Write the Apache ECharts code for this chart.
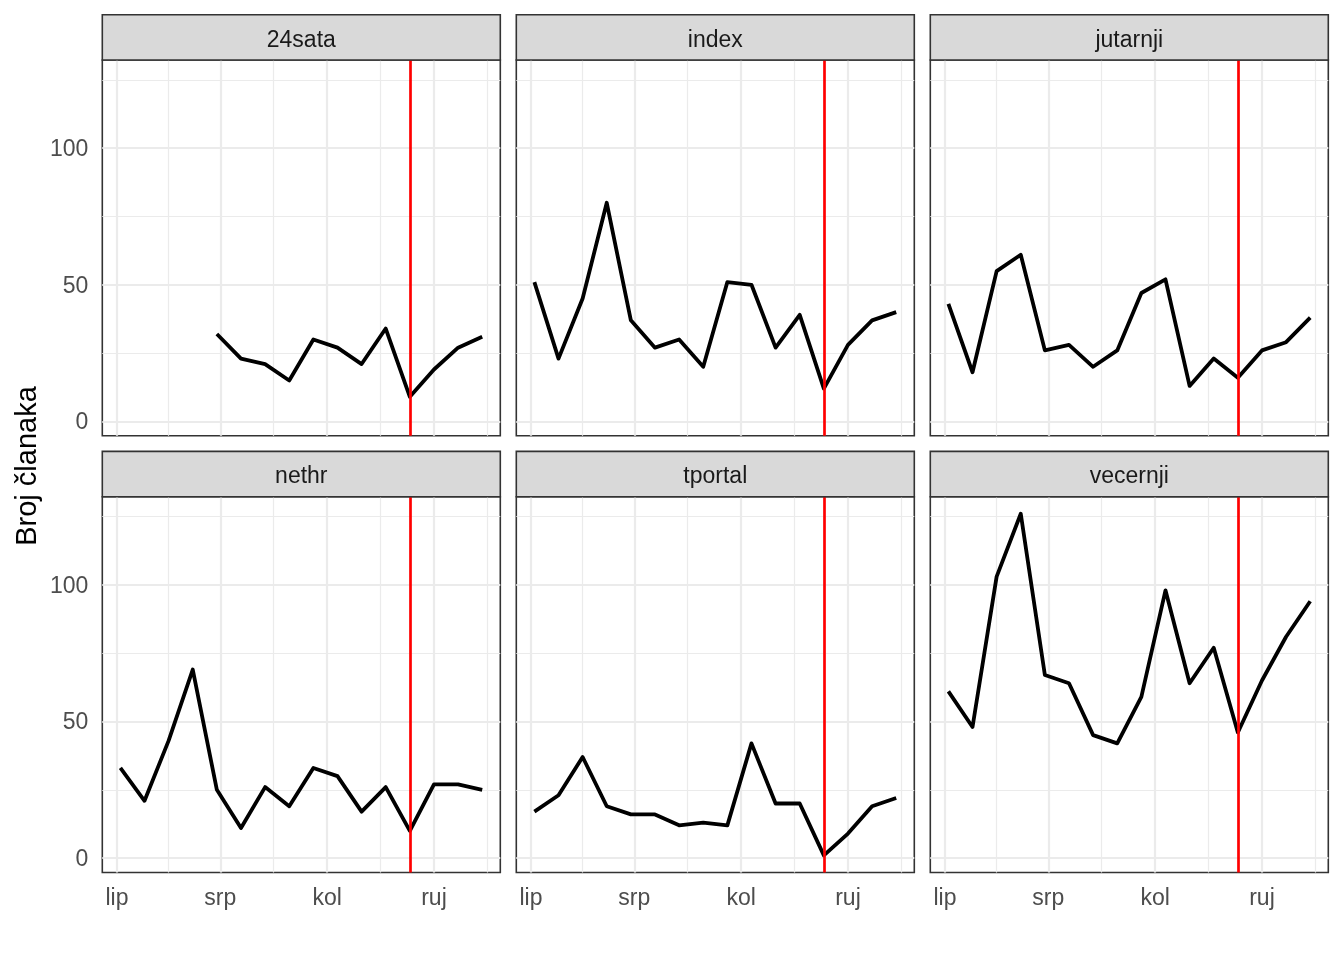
<!DOCTYPE html>
<html>
<head>
<meta charset="utf-8">
<script src="https://cdn.jsdelivr.net/npm/echarts@6/dist/echarts.min.js"></script>
<style>
html, body { margin: 0; padding: 0; background: #ffffff; }
#chart { width: 1344px; height: 960px; }
</style>
</head>
<body>
<div id="chart"></div>
<script>
// ---------- data ----------
const weeks = ['2019-06-02','2019-06-09','2019-06-16','2019-06-23','2019-06-30','2019-07-07','2019-07-14','2019-07-21',
               '2019-07-28','2019-08-04','2019-08-11','2019-08-18','2019-08-25','2019-09-01','2019-09-08','2019-09-15'];
const portals = ['24sata', 'index', 'jutarnji', 'nethr', 'tportal', 'vecernji'];
const s24sata  = [null, null, null, null, 32, 23, 21, 15, 30, 27, 21, 34, 9, 19, 27, 31];
const sIndex   = [51, 23, 45, 80, 37, 27, 30, 20, 51, 50, 27, 39, 12, 28, 37, 40];
const sJutarnji= [43, 18, 55, 61, 26, 28, 20, 26, 47, 52, 13, 23, 16, 26, 29, 38];
const sNethr   = [33, 21, 43, 69, 25, 11, 26, 19, 33, 30, 17, 26, 10, 27, 27, 25];
const sTportal = [17, 23, 37, 19, 16, 16, 12, 13, 12, 42, 20, 20, 1, 9, 19, 22];
const sVecernji= [61, 48, 103, 126, 67, 64, 45, 42, 59, 98, 64, 77, 46, 65, 81, 94];
const monthTicks  = ['2019-06-01', '2019-07-01', '2019-08-01', '2019-09-01'];
const monthLabels = ['lip', 'srp', 'kol', 'ruj'];
const yBreaks = [0, 50, 100];
const eventDate = '2019-08-25';
const yTitle = 'Broj članaka';

const seriesValues = [s24sata, sIndex, sJutarnji, sNethr, sTportal, sVecernji];

// ---------- helpers ----------
const origin = Date.UTC(2019, 5, 1);
function dayOf(s) { const p = s.split('-').map(Number); return (Date.UTC(p[0], p[1] - 1, p[2]) - origin) / 86400000; }
const xDays = weeks.map(dayOf);
const xTickDays = monthTicks.map(dayOf);
const eventDay = dayOf(eventDate);

const allVals = seriesValues.flat().filter(v => v != null);
const yLo = Math.min(...allVals), yHi = Math.max(...allVals);
const yPad = (yHi - yLo) * 0.05;
const yMin = yLo - yPad, yMax = yHi + yPad;
const xLo = Math.min(...xDays), xHi = Math.max(...xDays);
const xPad = (xHi - xLo) * 0.05;
const xMin = xLo - xPad, xMax = xHi + xPad;

function minorBreaks(br, lo, hi) {
  const out = [];
  for (let i = 0; i < br.length - 1; i++) out.push((br[i] + br[i + 1]) / 2);
  out.push(br[0] - (br[1] - br[0]) / 2);
  out.push(br[br.length - 1] + (br[br.length - 1] - br[br.length - 2]) / 2);
  return out.filter(v => v >= lo && v <= hi);
}
const xMinor = minorBreaks(xTickDays, xMin, xMax);
const yMinor = minorBreaks(yBreaks, yMin, yMax);

// ---------- layout ----------
const colLeft = [102.3, 516.3, 930.3];
const rowTop = [60, 496.7];
const panelW = 398, panelH = 375.8, stripH = 45.3;
const FONT = "'Liberation Sans', Arial, sans-serif";

const grids = [], xAxes = [], yAxes = [], series = [], graphics = [];
portals.forEach((name, i) => {
  const r = Math.floor(i / 3), c = i % 3;
  const left = colLeft[c], top = rowTop[r];
  grids.push({ left: left, top: top, width: panelW, height: panelH, show: true,
    borderColor: '#333333', borderWidth: 1.6, backgroundColor: '#ffffff', containLabel: false });
  const bottomRow = r === 1, leftCol = c === 0;
  xAxes.push({ type: 'value', gridIndex: i, min: xMin, max: xMax,
    axisLine: { show: false }, splitLine: { show: false },
    axisTick: { show: bottomRow, length: 7, lineStyle: { color: '#333333', width: 2 }, customValues: xTickDays },
    axisLabel: { show: bottomRow, customValues: xTickDays, margin: 15, color: '#4D4D4D', fontSize: 23, fontFamily: FONT,
      formatter: v => { const k = xTickDays.indexOf(v); return k >= 0 ? monthLabels[k] : ''; } } });
  yAxes.push({ type: 'value', gridIndex: i, min: yMin, max: yMax,
    axisLine: { show: false }, splitLine: { show: false },
    axisTick: { show: leftCol, length: 7, lineStyle: { color: '#333333', width: 2 }, customValues: yBreaks },
    axisLabel: { show: leftCol, customValues: yBreaks, margin: 14, color: '#4D4D4D', fontSize: 23, fontFamily: FONT,
      verticalAlign: 'top', lineHeight: 23, padding: [-10, 0, 0, 0] } });

  const gl = [];
  xMinor.forEach(v => gl.push({ xAxis: v, lineStyle: { width: 1.2 } }));
  yMinor.forEach(v => gl.push({ yAxis: v, lineStyle: { width: 1.2 } }));
  xTickDays.forEach(v => gl.push({ xAxis: v, lineStyle: { width: 2.2 } }));
  yBreaks.forEach(v => gl.push({ yAxis: v, lineStyle: { width: 2.2 } }));
  series.push({ type: 'line', xAxisIndex: i, yAxisIndex: i, data: [], silent: true, z: 0,
    markLine: { silent: true, z: 1, symbol: 'none', animation: false, label: { show: false },
      lineStyle: { color: '#EBEBEB', type: 'solid' }, data: gl } });

  series.push({ type: 'line', name: name, xAxisIndex: i, yAxisIndex: i, z: 3,
    data: xDays.map((d, k) => [d, seriesValues[i][k]]),
    showSymbol: false, symbol: 'none', connectNulls: false,
    lineStyle: { color: '#000000', width: 3.8, join: 'round', cap: 'butt' },
    markLine: { silent: true, z: 5, symbol: 'none', animation: false, label: { show: false },
      lineStyle: { color: '#FF0000', type: 'solid', width: 2.7 }, data: [{ xAxis: eventDay }] } });

  graphics.push({ type: 'rect', shape: { x: left, y: top - stripH, width: panelW, height: stripH },
    style: { fill: '#D9D9D9', stroke: '#333333', lineWidth: 1.6 }, z: 10 });
  graphics.push({ type: 'text', x: left + panelW / 2, y: top - stripH / 2 + 3, z: 11,
    style: { text: name, fill: '#1A1A1A', font: '23px ' + FONT, textAlign: 'center', textVerticalAlign: 'middle' } });
});
graphics.push({ type: 'text', x: 28, y: 466, rotation: Math.PI / 2, z: 11,
  style: { text: yTitle, fill: '#000000', font: '29px ' + FONT, textAlign: 'center', textVerticalAlign: 'middle' } });

const chart = echarts.init(document.getElementById('chart'), null, { renderer: 'canvas' });
chart.setOption({
  animation: false,
  backgroundColor: '#ffffff',
  grid: grids, xAxis: xAxes, yAxis: yAxes, series: series, graphic: graphics
});
</script>
</body>
</html>
